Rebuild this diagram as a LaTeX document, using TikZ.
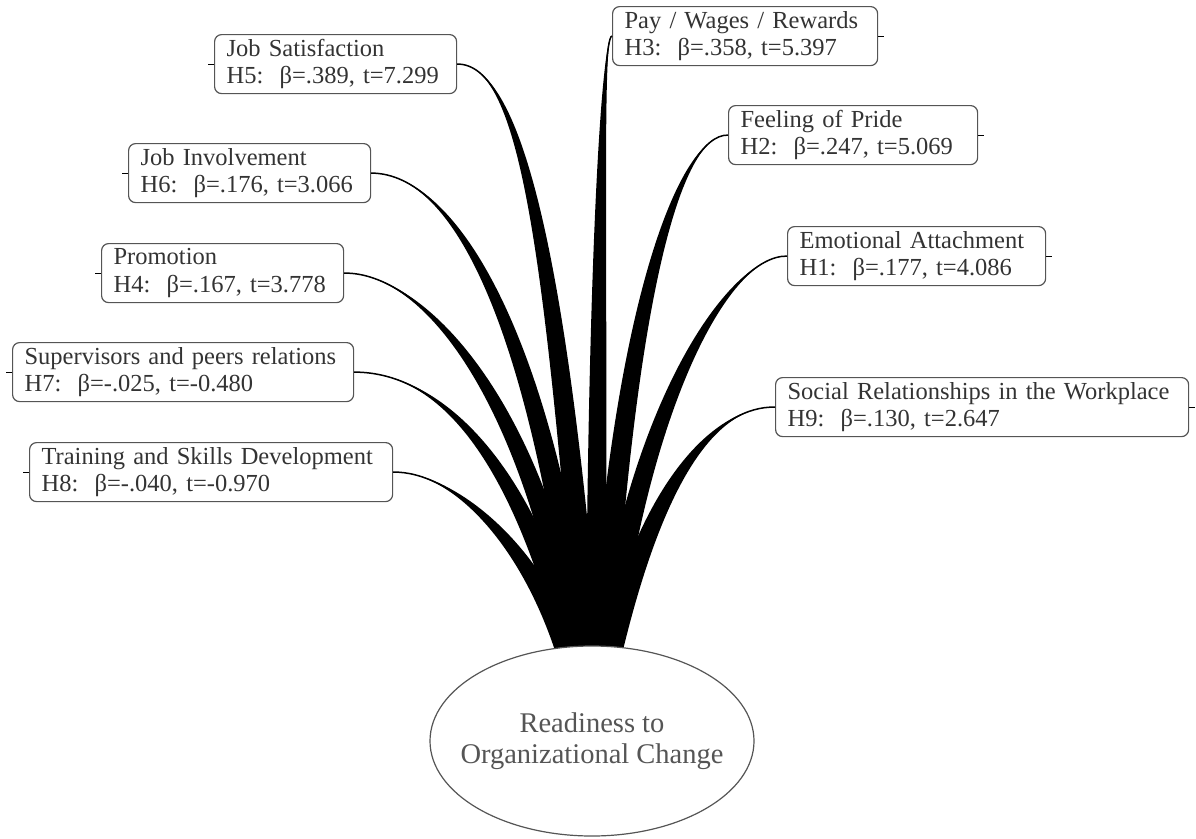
\documentclass[tikz,border=0pt]{standalone}
\usepackage{fontspec}
\setmainfont{Liberation Serif}
\usetikzlibrary{calc,shapes.geometric}
\definecolor{boxline}{HTML}{555555}
\definecolor{boxtext}{HTML}{333333}
\definecolor{elltext}{HTML}{555555}
\tikzset{
  factor/.style={draw=boxline, line width=1.2pt, rounded corners=7pt, anchor=north west,
    align=left, inner xsep=12pt, inner ysep=0pt, minimum height=59pt, text=boxtext,
    font=\fontsize{24.5}{27.5}\selectfont},
  boxtick/.style={draw=black, line width=1pt},
  outcome/.style={ellipse, draw=boxline, fill=white, line width=1.2pt, minimum width=324pt,
    minimum height=190pt, inner sep=0pt},
  outcometext/.style={align=center, text=elltext, inner sep=0pt,
    font=\fontsize{28.5}{31}\selectfont},
  stem/.style={draw=black, line width=1.5pt}
}
% tapered branch: start, control 1, control 2, end, half width at end
\newcommand\branchfill[5]{%
  \fill[black] (#1) .. controls (#2) and ($(#3)+(-#5,0)$) .. ($(#4)+(-#5,0)$)
     -- ($(#4)+(#5,0)$) .. controls ($(#3)+(#5,0)$) and (#2) .. (#1) -- cycle;
  \draw[stem] (#1) .. controls (#2) and (#3) .. (#4);}
\hyphenpenalty=10000
\exhyphenpenalty=10000
\begin{document}
\begin{tikzpicture}[x=1pt,y=-1pt]
\useasboundingbox (0,0) rectangle (1196,838);
% factor boxes
\node[factor, text width=218pt] (h5) at (214,34) {Job Satisfaction\\H5:~~β=.389, t=7.299};
\node[factor, text width=241pt] (h3) at (612,6) {Pay / Wages / Rewards\\H3:~~β=.358, t=5.397};
\node[factor, text width=225pt] (h2) at (728,105) {Feeling of Pride\\H2:~~β=.247, t=5.069};
\node[factor, text width=218pt] (h6) at (128,143) {Job Involvement\\H6:~~β=.176, t=3.066};
\node[factor, text width=234pt] (h1) at (787,226) {Emotional Attachment\\H1:~~β=.177, t=4.086};
\node[factor, text width=218pt] (h4) at (101,243) {Promotion\\H4:~~β=.167, t=3.778};
\node[factor, text width=317pt] (h7) at (12,342) {Supervisors and peers relations\\H7:~~β=-.025, t=-0.480};
\node[factor, text width=389pt] (h9) at (775,377) {Social Relationships in the Workplace\\H9:~~β=.130, t=2.647};
\node[factor, text width=339pt] (h8) at (29,442) {Training and Skills Development\\H8:~~β=-.040, t=-0.970};
% small ticks on the free side of each box
\draw[boxtick] (h5.west) -- ++(-6,0);
\draw[boxtick] (h6.west) -- ++(-6,0);
\draw[boxtick] (h4.west) -- ++(-6,0);
\draw[boxtick] (h7.west) -- ++(-6,0);
\draw[boxtick] (h8.west) -- ++(-6,0);
\draw[boxtick] (h3.east) -- ++(6,0);
\draw[boxtick] (h2.east) -- ++(6,0);
\draw[boxtick] (h1.east) -- ++(6,0);
\draw[boxtick] (h9.east) -- ++(6,0);
% branch end points
\coordinate (e8) at (567,652);
\coordinate (e7) at (572,652);
\coordinate (e4) at (577,652);
\coordinate (e6) at (582,652);
\coordinate (e5) at (588,652);
\coordinate (e3) at (596,652);
\coordinate (e2) at (602,652);
\coordinate (e1) at (607,652);
\coordinate (e9) at (611,652);
% tapered branches
\branchfill{h8.east}{450,471}{530,540}{e8}{11.5}
\branchfill{h7.east}{440,372}{522,460}{e7}{11.5}
\branchfill{h4.east}{420,272}{530,390}{e4}{11.5}
\branchfill{h6.east}{455,173}{540,330}{e6}{11.5}
\branchfill{h5.east}{520,63}{555,250}{e5}{11.5}
\branchfill{h3.west}{602,36}{598,250}{e3}{10}
\branchfill{h2.west}{680,134}{625,300}{e2}{11.5}
\branchfill{h1.west}{730,255}{640,400}{e1}{11.5}
\branchfill{h9.west}{720,406}{655,470}{e9}{11.5}
% outcome
\node[outcome] (roc) at (592,741) {};
\node[outcometext] (roctext) at (roc.center) {Readiness to\\Organizational Change};
\end{tikzpicture}
\end{document}
